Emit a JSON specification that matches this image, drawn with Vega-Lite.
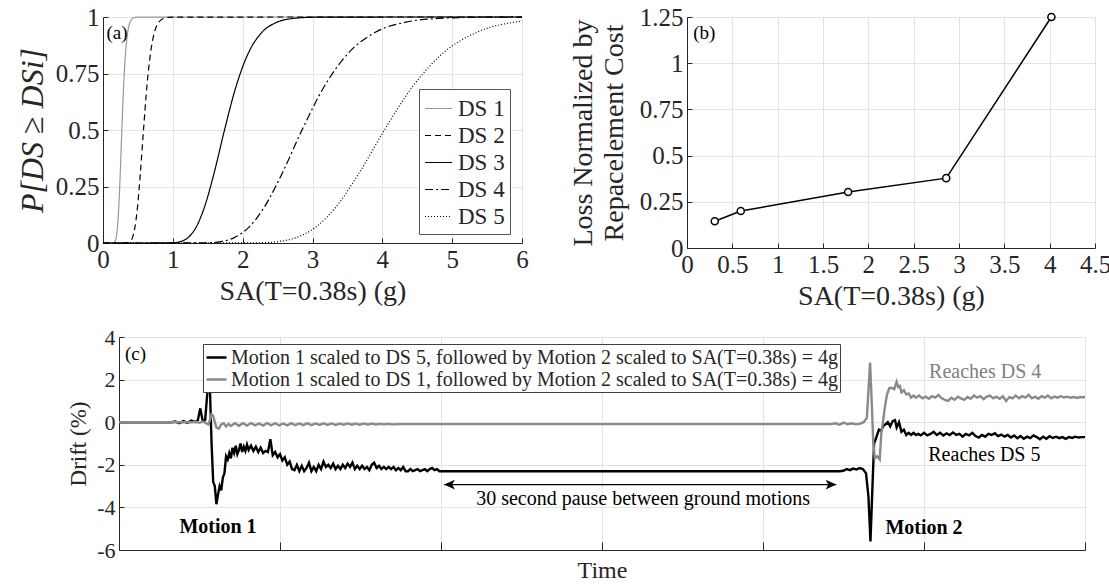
{
  "$schema": "https://vega.github.io/schema/vega-lite/v6.json",
  "padding": {"left": 16, "top": 5, "right": 0, "bottom": 2},
  "spacing": 16,
  "resolve": {"scale": {"color": "independent", "strokeDash": "independent"}, "legend": {"color": "independent", "strokeDash": "independent"}},
  "config": {
    "font": "Liberation Serif",
    "view": {"stroke": null},
    "axis": {
      "labelFont": "Liberation Serif", "titleFont": "Liberation Serif",
      "labelColor": "#262626", "titleColor": "#262626",
      "domainColor": "#262626", "tickColor": "#262626",
      "gridColor": "#e3e3e3", "gridWidth": 1,
      "titleFontWeight": "normal",
      "tickSize": -5, "labelPadding": 9,
      "labelFlush": false, "labelOverlap": false,
      "labelExpr": "'' + datum.value"
    },
    "legend": {"labelFont": "Liberation Serif", "labelColor": "#262626"},
    "text": {"font": "Liberation Serif"}
  },
  "datasets": {
    "frag": [
      {"ds": "DS 1", "sa": 0, "p": 0}, {"ds": "DS 1", "sa": 0.144, "p": 0.0002}, {"ds": "DS 1", "sa": 0.157, "p": 0.0013}, {"ds": "DS 1", "sa": 0.172, "p": 0.0062}, {"ds": "DS 1", "sa": 0.188, "p": 0.0228}, {"ds": "DS 1", "sa": 0.206, "p": 0.0668}, {"ds": "DS 1", "sa": 0.226, "p": 0.1587}, {"ds": "DS 1", "sa": 0.247, "p": 0.3085}, {"ds": "DS 1", "sa": 0.27, "p": 0.5}, {"ds": "DS 1", "sa": 0.295, "p": 0.6915}, {"ds": "DS 1", "sa": 0.323, "p": 0.8413}, {"ds": "DS 1", "sa": 0.354, "p": 0.9332}, {"ds": "DS 1", "sa": 0.387, "p": 0.9772}, {"ds": "DS 1", "sa": 0.423, "p": 0.9938}, {"ds": "DS 1", "sa": 0.463, "p": 0.9987}, {"ds": "DS 1", "sa": 0.507, "p": 0.9998}, {"ds": "DS 1", "sa": 6, "p": 1},
      {"ds": "DS 2", "sa": 0, "p": 0}, {"ds": "DS 2", "sa": 0.331, "p": 0.0002}, {"ds": "DS 2", "sa": 0.359, "p": 0.0013}, {"ds": "DS 2", "sa": 0.389, "p": 0.0062}, {"ds": "DS 2", "sa": 0.421, "p": 0.0228}, {"ds": "DS 2", "sa": 0.456, "p": 0.0668}, {"ds": "DS 2", "sa": 0.494, "p": 0.1587}, {"ds": "DS 2", "sa": 0.535, "p": 0.3085}, {"ds": "DS 2", "sa": 0.58, "p": 0.5}, {"ds": "DS 2", "sa": 0.628, "p": 0.6915}, {"ds": "DS 2", "sa": 0.681, "p": 0.8413}, {"ds": "DS 2", "sa": 0.737, "p": 0.9332}, {"ds": "DS 2", "sa": 0.799, "p": 0.9772}, {"ds": "DS 2", "sa": 0.865, "p": 0.9938}, {"ds": "DS 2", "sa": 0.937, "p": 0.9987}, {"ds": "DS 2", "sa": 1.016, "p": 0.9998}, {"ds": "DS 2", "sa": 6, "p": 1},
      {"ds": "DS 3", "sa": 0, "p": 0}, {"ds": "DS 3", "sa": 0.927, "p": 0.0002}, {"ds": "DS 3", "sa": 1.014, "p": 0.0013}, {"ds": "DS 3", "sa": 1.11, "p": 0.0062}, {"ds": "DS 3", "sa": 1.214, "p": 0.0228}, {"ds": "DS 3", "sa": 1.328, "p": 0.0668}, {"ds": "DS 3", "sa": 1.453, "p": 0.1587}, {"ds": "DS 3", "sa": 1.59, "p": 0.3085}, {"ds": "DS 3", "sa": 1.74, "p": 0.5}, {"ds": "DS 3", "sa": 1.904, "p": 0.6915}, {"ds": "DS 3", "sa": 2.083, "p": 0.8413}, {"ds": "DS 3", "sa": 2.279, "p": 0.9332}, {"ds": "DS 3", "sa": 2.493, "p": 0.9772}, {"ds": "DS 3", "sa": 2.728, "p": 0.9938}, {"ds": "DS 3", "sa": 2.986, "p": 0.9987}, {"ds": "DS 3", "sa": 3.268, "p": 0.9998}, {"ds": "DS 3", "sa": 6, "p": 1},
      {"ds": "DS 4", "sa": 0, "p": 0}, {"ds": "DS 4", "sa": 1.367, "p": 0.0002}, {"ds": "DS 4", "sa": 1.518, "p": 0.0013}, {"ds": "DS 4", "sa": 1.686, "p": 0.0062}, {"ds": "DS 4", "sa": 1.873, "p": 0.0228}, {"ds": "DS 4", "sa": 2.08, "p": 0.0668}, {"ds": "DS 4", "sa": 2.31, "p": 0.1587}, {"ds": "DS 4", "sa": 2.566, "p": 0.3085}, {"ds": "DS 4", "sa": 2.85, "p": 0.5}, {"ds": "DS 4", "sa": 3.166, "p": 0.6915}, {"ds": "DS 4", "sa": 3.516, "p": 0.8413}, {"ds": "DS 4", "sa": 3.905, "p": 0.9332}, {"ds": "DS 4", "sa": 4.338, "p": 0.9772}, {"ds": "DS 4", "sa": 4.818, "p": 0.9938}, {"ds": "DS 4", "sa": 5.351, "p": 0.9987}, {"ds": "DS 4", "sa": 5.944, "p": 0.9998}, {"ds": "DS 4", "sa": 6, "p": 0.9998},
      {"ds": "DS 5", "sa": 0, "p": 0}, {"ds": "DS 5", "sa": 2.073, "p": 0.0002}, {"ds": "DS 5", "sa": 2.279, "p": 0.0013}, {"ds": "DS 5", "sa": 2.506, "p": 0.0062}, {"ds": "DS 5", "sa": 2.756, "p": 0.0228}, {"ds": "DS 5", "sa": 3.031, "p": 0.0668}, {"ds": "DS 5", "sa": 3.333, "p": 0.1587}, {"ds": "DS 5", "sa": 3.665, "p": 0.3085}, {"ds": "DS 5", "sa": 4.03, "p": 0.5}, {"ds": "DS 5", "sa": 4.432, "p": 0.6915}, {"ds": "DS 5", "sa": 4.873, "p": 0.8413}, {"ds": "DS 5", "sa": 5.359, "p": 0.9332}, {"ds": "DS 5", "sa": 5.893, "p": 0.9772}, {"ds": "DS 5", "sa": 6, "p": 0.9818}
    ],
    "loss": [
      {"sa": 0.306, "loss": 0.145}, {"sa": 0.593, "loss": 0.2}, {"sa": 1.777, "loss": 0.303}, {"sa": 2.859, "loss": 0.378}, {"sa": 4.019, "loss": 1.25}
    ],
    "drift": [
      {"s": "A", "t": 0, "d": 0}, {"s": "A", "t": 6.5, "d": 0}, {"s": "A", "t": 7.0, "d": 0.03}, {"s": "A", "t": 7.5, "d": -0.05}, {"s": "A", "t": 8.0, "d": 0.05}, {"s": "A", "t": 8.5, "d": -0.03}, {"s": "A", "t": 9.0, "d": 0.08}, {"s": "A", "t": 9.5, "d": 0.0}, {"s": "A", "t": 9.8, "d": 0.1}, {"s": "A", "t": 10.1, "d": 0.65}, {"s": "A", "t": 10.4, "d": 0.05}, {"s": "A", "t": 10.7, "d": 0.1}, {"s": "A", "t": 11.0, "d": 1.5}, {"s": "A", "t": 11.15, "d": 2.85}, {"s": "A", "t": 11.3, "d": 1.5}, {"s": "A", "t": 11.5, "d": -1.0}, {"s": "A", "t": 11.7, "d": -2.8}, {"s": "A", "t": 11.9, "d": -3.0}, {"s": "A", "t": 12.1, "d": -3.85}, {"s": "A", "t": 12.3, "d": -3.4}, {"s": "A", "t": 12.5, "d": -3.0}, {"s": "A", "t": 12.7, "d": -3.2}, {"s": "A", "t": 12.9, "d": -2.6}, {"s": "A", "t": 13.1, "d": -2.4}, {"s": "A", "t": 13.3, "d": -1.6}, {"s": "A", "t": 13.5, "d": -1.75}, {"s": "A", "t": 13.7, "d": -1.45}, {"s": "A", "t": 13.9, "d": -1.7}, {"s": "A", "t": 14.1, "d": -1.2}, {"s": "A", "t": 14.3, "d": -1.45}, {"s": "A", "t": 14.5, "d": -1.1}, {"s": "A", "t": 14.7, "d": -1.5}, {"s": "A", "t": 14.9, "d": -1.3}, {"s": "A", "t": 15.1, "d": -1.0}, {"s": "A", "t": 15.3, "d": -1.4}, {"s": "A", "t": 15.5, "d": -1.15}, {"s": "A", "t": 15.7, "d": -1.35}, {"s": "A", "t": 15.9, "d": -1.05}, {"s": "A", "t": 16.1, "d": -1.3}, {"s": "A", "t": 16.4, "d": -1.1}, {"s": "A", "t": 16.7, "d": -1.35}, {"s": "A", "t": 17.0, "d": -1.15}, {"s": "A", "t": 17.3, "d": -1.4}, {"s": "A", "t": 17.6, "d": -1.2}, {"s": "A", "t": 17.9, "d": -1.45}, {"s": "A", "t": 18.2, "d": -1.35}, {"s": "A", "t": 18.5, "d": -1.4}, {"s": "A", "t": 18.8, "d": -0.8}, {"s": "A", "t": 19.1, "d": -1.55}, {"s": "A", "t": 19.4, "d": -1.4}, {"s": "A", "t": 19.7, "d": -1.65}, {"s": "A", "t": 20.0, "d": -1.5}, {"s": "A", "t": 20.3, "d": -1.8}, {"s": "A", "t": 20.6, "d": -1.65}, {"s": "A", "t": 20.9, "d": -2.0}, {"s": "A", "t": 21.2, "d": -1.85}, {"s": "A", "t": 21.5, "d": -2.2}, {"s": "A", "t": 21.8, "d": -2.25}, {"s": "A", "t": 22.1, "d": -2.0}, {"s": "A", "t": 22.4, "d": -2.3}, {"s": "A", "t": 22.7, "d": -2.05}, {"s": "A", "t": 23.0, "d": -2.3}, {"s": "A", "t": 23.3, "d": -2.15}, {"s": "A", "t": 23.6, "d": -1.9}, {"s": "A", "t": 23.9, "d": -2.3}, {"s": "A", "t": 24.2, "d": -2.1}, {"s": "A", "t": 24.5, "d": -2.3}, {"s": "A", "t": 24.8, "d": -2.0}, {"s": "A", "t": 25.1, "d": -2.2}, {"s": "A", "t": 25.4, "d": -1.85}, {"s": "A", "t": 25.7, "d": -2.1}, {"s": "A", "t": 26.0, "d": -2.0}, {"s": "A", "t": 26.3, "d": -2.15}, {"s": "A", "t": 26.6, "d": -1.95}, {"s": "A", "t": 26.9, "d": -2.2}, {"s": "A", "t": 27.2, "d": -2.05}, {"s": "A", "t": 27.5, "d": -2.2}, {"s": "A", "t": 27.8, "d": -2.0}, {"s": "A", "t": 28.1, "d": -2.15}, {"s": "A", "t": 28.4, "d": -1.95}, {"s": "A", "t": 28.7, "d": -2.1}, {"s": "A", "t": 29.0, "d": -1.9}, {"s": "A", "t": 29.3, "d": -2.2}, {"s": "A", "t": 29.6, "d": -2.05}, {"s": "A", "t": 29.9, "d": -2.2}, {"s": "A", "t": 30.2, "d": -2.05}, {"s": "A", "t": 30.5, "d": -2.2}, {"s": "A", "t": 30.8, "d": -2.1}, {"s": "A", "t": 31.1, "d": -2.25}, {"s": "A", "t": 31.4, "d": -2.0}, {"s": "A", "t": 31.7, "d": -1.9}, {"s": "A", "t": 32.0, "d": -2.15}, {"s": "A", "t": 32.3, "d": -2.05}, {"s": "A", "t": 32.6, "d": -2.2}, {"s": "A", "t": 32.9, "d": -2.1}, {"s": "A", "t": 33.2, "d": -2.2}, {"s": "A", "t": 33.5, "d": -2.1}, {"s": "A", "t": 33.8, "d": -2.2}, {"s": "A", "t": 34.1, "d": -2.1}, {"s": "A", "t": 34.4, "d": -2.25}, {"s": "A", "t": 34.7, "d": -2.15}, {"s": "A", "t": 35.0, "d": -2.25}, {"s": "A", "t": 35.3, "d": -2.1}, {"s": "A", "t": 35.6, "d": -2.3}, {"s": "A", "t": 35.9, "d": -2.3}, {"s": "A", "t": 36.2, "d": -2.2}, {"s": "A", "t": 36.5, "d": -2.3}, {"s": "A", "t": 36.8, "d": -2.25}, {"s": "A", "t": 37.1, "d": -2.2}, {"s": "A", "t": 37.4, "d": -2.3}, {"s": "A", "t": 37.7, "d": -2.25}, {"s": "A", "t": 38.0, "d": -2.2}, {"s": "A", "t": 38.3, "d": -2.3}, {"s": "A", "t": 38.6, "d": -2.2}, {"s": "A", "t": 38.9, "d": -2.15}, {"s": "A", "t": 39.2, "d": -2.25}, {"s": "A", "t": 39.5, "d": -2.2}, {"s": "A", "t": 39.8, "d": -2.3}, {"s": "A", "t": 40.0, "d": -2.3}, {"s": "A", "t": 89.5, "d": -2.3}, {"s": "A", "t": 90.0, "d": -2.28}, {"s": "A", "t": 90.4, "d": -2.2}, {"s": "A", "t": 90.8, "d": -2.25}, {"s": "A", "t": 91.2, "d": -2.18}, {"s": "A", "t": 91.6, "d": -2.22}, {"s": "A", "t": 92.0, "d": -2.15}, {"s": "A", "t": 92.4, "d": -2.2}, {"s": "A", "t": 92.8, "d": -2.4}, {"s": "A", "t": 93.1, "d": -3.5}, {"s": "A", "t": 93.35, "d": -5.6}, {"s": "A", "t": 93.6, "d": -3.0}, {"s": "A", "t": 93.8, "d": -1.0}, {"s": "A", "t": 94.0, "d": -0.8}, {"s": "A", "t": 94.4, "d": -0.35}, {"s": "A", "t": 94.7, "d": -0.4}, {"s": "A", "t": 94.9, "d": -0.2}, {"s": "A", "t": 95.2, "d": -0.1}, {"s": "A", "t": 95.5, "d": 0.0}, {"s": "A", "t": 95.8, "d": -0.2}, {"s": "A", "t": 96.1, "d": 0.05}, {"s": "A", "t": 96.4, "d": 0.1}, {"s": "A", "t": 96.6, "d": -0.25}, {"s": "A", "t": 96.9, "d": 0.0}, {"s": "A", "t": 97.2, "d": -0.45}, {"s": "A", "t": 97.5, "d": -0.35}, {"s": "A", "t": 97.8, "d": -0.6}, {"s": "A", "t": 98.1, "d": -0.5}, {"s": "A", "t": 98.4, "d": -0.6}, {"s": "A", "t": 98.7, "d": -0.5}, {"s": "A", "t": 99.0, "d": -0.6}, {"s": "A", "t": 99.3, "d": -0.55}, {"s": "A", "t": 99.6, "d": -0.62}, {"s": "A", "t": 100.0, "d": -0.5}, {"s": "A", "t": 100.4, "d": -0.62}, {"s": "A", "t": 100.8, "d": -0.55}, {"s": "A", "t": 101.2, "d": -0.45}, {"s": "A", "t": 101.6, "d": -0.6}, {"s": "A", "t": 102.0, "d": -0.5}, {"s": "A", "t": 102.4, "d": -0.62}, {"s": "A", "t": 102.8, "d": -0.52}, {"s": "A", "t": 103.2, "d": -0.6}, {"s": "A", "t": 103.6, "d": -0.48}, {"s": "A", "t": 104.0, "d": -0.6}, {"s": "A", "t": 104.4, "d": -0.55}, {"s": "A", "t": 104.8, "d": -0.68}, {"s": "A", "t": 105.2, "d": -0.55}, {"s": "A", "t": 105.6, "d": -0.62}, {"s": "A", "t": 106.0, "d": -0.5}, {"s": "A", "t": 106.4, "d": -0.65}, {"s": "A", "t": 106.8, "d": -0.72}, {"s": "A", "t": 107.2, "d": -0.6}, {"s": "A", "t": 107.6, "d": -0.68}, {"s": "A", "t": 108.0, "d": -0.55}, {"s": "A", "t": 108.4, "d": -0.6}, {"s": "A", "t": 108.8, "d": -0.52}, {"s": "A", "t": 109.2, "d": -0.65}, {"s": "A", "t": 109.6, "d": -0.58}, {"s": "A", "t": 110.0, "d": -0.68}, {"s": "A", "t": 110.4, "d": -0.6}, {"s": "A", "t": 110.8, "d": -0.72}, {"s": "A", "t": 111.2, "d": -0.62}, {"s": "A", "t": 111.6, "d": -0.75}, {"s": "A", "t": 112.0, "d": -0.65}, {"s": "A", "t": 112.4, "d": -0.78}, {"s": "A", "t": 112.8, "d": -0.68}, {"s": "A", "t": 113.2, "d": -0.75}, {"s": "A", "t": 113.6, "d": -0.62}, {"s": "A", "t": 114.0, "d": -0.7}, {"s": "A", "t": 114.4, "d": -0.8}, {"s": "A", "t": 114.8, "d": -0.68}, {"s": "A", "t": 115.2, "d": -0.78}, {"s": "A", "t": 115.6, "d": -0.66}, {"s": "A", "t": 116.0, "d": -0.74}, {"s": "A", "t": 116.4, "d": -0.68}, {"s": "A", "t": 116.8, "d": -0.75}, {"s": "A", "t": 117.2, "d": -0.7}, {"s": "A", "t": 117.6, "d": -0.78}, {"s": "A", "t": 118.0, "d": -0.7}, {"s": "A", "t": 118.4, "d": -0.74}, {"s": "A", "t": 118.8, "d": -0.68}, {"s": "A", "t": 119.2, "d": -0.72}, {"s": "A", "t": 119.6, "d": -0.7}, {"s": "A", "t": 120.0, "d": -0.7},
      {"s": "B", "t": 0, "d": 0}, {"s": "B", "t": 9.0, "d": 0}, {"s": "B", "t": 9.5, "d": 0.02}, {"s": "B", "t": 10.0, "d": -0.03}, {"s": "B", "t": 10.4, "d": 0.03}, {"s": "B", "t": 10.8, "d": -0.05}, {"s": "B", "t": 11.1, "d": -0.1}, {"s": "B", "t": 11.3, "d": 0.1}, {"s": "B", "t": 11.5, "d": 0.38}, {"s": "B", "t": 11.7, "d": 0.3}, {"s": "B", "t": 11.9, "d": 0.0}, {"s": "B", "t": 12.1, "d": -0.25}, {"s": "B", "t": 12.4, "d": -0.3}, {"s": "B", "t": 12.7, "d": -0.1}, {"s": "B", "t": 13.0, "d": -0.05}, {"s": "B", "t": 13.3, "d": -0.2}, {"s": "B", "t": 13.6, "d": -0.08}, {"s": "B", "t": 13.9, "d": -0.18}, {"s": "B", "t": 14.4, "d": -0.05}, {"s": "B", "t": 14.9, "d": -0.17}, {"s": "B", "t": 15.4, "d": -0.05}, {"s": "B", "t": 15.9, "d": -0.16}, {"s": "B", "t": 16.4, "d": -0.04}, {"s": "B", "t": 16.9, "d": -0.15}, {"s": "B", "t": 17.4, "d": -0.06}, {"s": "B", "t": 17.9, "d": -0.16}, {"s": "B", "t": 18.4, "d": -0.04}, {"s": "B", "t": 18.9, "d": -0.15}, {"s": "B", "t": 19.4, "d": -0.05}, {"s": "B", "t": 19.9, "d": -0.15}, {"s": "B", "t": 20.4, "d": -0.06}, {"s": "B", "t": 20.9, "d": -0.15}, {"s": "B", "t": 21.4, "d": -0.05}, {"s": "B", "t": 21.9, "d": -0.14}, {"s": "B", "t": 22.4, "d": -0.06}, {"s": "B", "t": 22.9, "d": -0.14}, {"s": "B", "t": 23.4, "d": -0.05}, {"s": "B", "t": 23.9, "d": -0.14}, {"s": "B", "t": 24.4, "d": -0.06}, {"s": "B", "t": 24.9, "d": -0.13}, {"s": "B", "t": 25.4, "d": -0.06}, {"s": "B", "t": 25.9, "d": -0.13}, {"s": "B", "t": 26.4, "d": -0.06}, {"s": "B", "t": 26.9, "d": -0.13}, {"s": "B", "t": 27.4, "d": -0.07}, {"s": "B", "t": 27.9, "d": -0.12}, {"s": "B", "t": 28.4, "d": -0.06}, {"s": "B", "t": 28.9, "d": -0.12}, {"s": "B", "t": 29.4, "d": -0.07}, {"s": "B", "t": 29.9, "d": -0.12}, {"s": "B", "t": 30.4, "d": -0.07}, {"s": "B", "t": 30.9, "d": -0.11}, {"s": "B", "t": 31.4, "d": -0.07}, {"s": "B", "t": 31.9, "d": -0.11}, {"s": "B", "t": 32.4, "d": -0.08}, {"s": "B", "t": 32.9, "d": -0.1}, {"s": "B", "t": 33.4, "d": -0.08}, {"s": "B", "t": 33.9, "d": -0.1}, {"s": "B", "t": 35.0, "d": -0.09}, {"s": "B", "t": 88.5, "d": -0.09}, {"s": "B", "t": 89.0, "d": -0.05}, {"s": "B", "t": 89.5, "d": -0.12}, {"s": "B", "t": 90.0, "d": -0.02}, {"s": "B", "t": 90.5, "d": -0.1}, {"s": "B", "t": 91.0, "d": -0.05}, {"s": "B", "t": 91.5, "d": -0.1}, {"s": "B", "t": 92.0, "d": -0.08}, {"s": "B", "t": 92.5, "d": 0.0}, {"s": "B", "t": 92.9, "d": 0.2}, {"s": "B", "t": 93.1, "d": 1.5}, {"s": "B", "t": 93.3, "d": 2.8}, {"s": "B", "t": 93.5, "d": 1.0}, {"s": "B", "t": 93.7, "d": -1.0}, {"s": "B", "t": 93.9, "d": -1.7}, {"s": "B", "t": 94.2, "d": -1.6}, {"s": "B", "t": 94.5, "d": -1.75}, {"s": "B", "t": 94.7, "d": -0.5}, {"s": "B", "t": 94.9, "d": 0.0}, {"s": "B", "t": 95.1, "d": 0.6}, {"s": "B", "t": 95.4, "d": 1.3}, {"s": "B", "t": 95.7, "d": 1.6}, {"s": "B", "t": 96.0, "d": 1.62}, {"s": "B", "t": 96.3, "d": 1.55}, {"s": "B", "t": 96.6, "d": 1.9}, {"s": "B", "t": 96.8, "d": 1.65}, {"s": "B", "t": 97.0, "d": 1.7}, {"s": "B", "t": 97.2, "d": 1.4}, {"s": "B", "t": 97.5, "d": 1.5}, {"s": "B", "t": 97.8, "d": 1.3}, {"s": "B", "t": 98.1, "d": 1.35}, {"s": "B", "t": 98.4, "d": 1.15}, {"s": "B", "t": 98.7, "d": 1.25}, {"s": "B", "t": 99.0, "d": 1.15}, {"s": "B", "t": 99.4, "d": 1.25}, {"s": "B", "t": 99.8, "d": 1.12}, {"s": "B", "t": 100.2, "d": 1.2}, {"s": "B", "t": 100.6, "d": 1.1}, {"s": "B", "t": 101.0, "d": 1.22}, {"s": "B", "t": 101.4, "d": 1.15}, {"s": "B", "t": 101.8, "d": 1.28}, {"s": "B", "t": 102.2, "d": 1.12}, {"s": "B", "t": 102.6, "d": 1.05}, {"s": "B", "t": 103.0, "d": 1.0}, {"s": "B", "t": 103.4, "d": 1.15}, {"s": "B", "t": 103.8, "d": 1.05}, {"s": "B", "t": 104.2, "d": 1.2}, {"s": "B", "t": 104.6, "d": 1.12}, {"s": "B", "t": 105.0, "d": 1.05}, {"s": "B", "t": 105.4, "d": 1.18}, {"s": "B", "t": 105.8, "d": 1.1}, {"s": "B", "t": 106.2, "d": 1.25}, {"s": "B", "t": 106.6, "d": 1.15}, {"s": "B", "t": 107.0, "d": 1.22}, {"s": "B", "t": 107.4, "d": 1.08}, {"s": "B", "t": 107.8, "d": 1.2}, {"s": "B", "t": 108.2, "d": 1.25}, {"s": "B", "t": 108.6, "d": 1.12}, {"s": "B", "t": 109.0, "d": 1.2}, {"s": "B", "t": 109.4, "d": 1.1}, {"s": "B", "t": 109.8, "d": 1.22}, {"s": "B", "t": 110.2, "d": 1.0}, {"s": "B", "t": 110.6, "d": 1.18}, {"s": "B", "t": 111.0, "d": 1.12}, {"s": "B", "t": 111.4, "d": 1.25}, {"s": "B", "t": 111.8, "d": 1.12}, {"s": "B", "t": 112.2, "d": 1.22}, {"s": "B", "t": 112.6, "d": 1.15}, {"s": "B", "t": 113.0, "d": 1.28}, {"s": "B", "t": 113.4, "d": 1.12}, {"s": "B", "t": 113.8, "d": 1.2}, {"s": "B", "t": 114.2, "d": 1.1}, {"s": "B", "t": 114.6, "d": 1.22}, {"s": "B", "t": 115.0, "d": 1.15}, {"s": "B", "t": 115.4, "d": 1.25}, {"s": "B", "t": 115.8, "d": 1.12}, {"s": "B", "t": 116.2, "d": 1.2}, {"s": "B", "t": 116.6, "d": 1.15}, {"s": "B", "t": 117.0, "d": 1.22}, {"s": "B", "t": 117.4, "d": 1.16}, {"s": "B", "t": 117.8, "d": 1.2}, {"s": "B", "t": 118.2, "d": 1.15}, {"s": "B", "t": 118.6, "d": 1.18}, {"s": "B", "t": 119.0, "d": 1.14}, {"s": "B", "t": 119.4, "d": 1.18}, {"s": "B", "t": 120.0, "d": 1.17}
    ]
  },
  "vconcat": [
    {
      "hconcat": [
        {
          "width": 419, "height": 226,
          "layer": [
            {
              "data": {"name": "frag"},
              "mark": {"type": "line", "strokeWidth": 1.2, "interpolate": "monotone"},
              "encoding": {
                "x": {"field": "sa", "type": "quantitative", "scale": {"domain": [0, 6], "nice": false},
                      "axis": {"title": "SA(T=0.38s) (g)", "values": [0, 1, 2, 3, 4, 5, 6], "labelFontSize": 25, "titleFontSize": 28, "titlePadding": 5}},
                "y": {"field": "p", "type": "quantitative", "scale": {"domain": [0, 1], "nice": false},
                      "axis": {"title": "P[DS ≥ DSi]", "titleFontStyle": "italic", "titleFontSize": 32, "values": [0, 0.25, 0.5, 0.75, 1], "labelFontSize": 25, "titlePadding": 6}},
                "color": {"field": "ds", "type": "nominal",
                          "scale": {"domain": ["DS 1", "DS 2", "DS 3", "DS 4", "DS 5"], "range": ["#999999", "#000000", "#000000", "#000000", "#000000"]},
                          "legend": {"title": null, "orient": "none", "legendX": 316, "legendY": 72, "labelFontSize": 23, "symbolSize": 729, "symbolStrokeWidth": 1.2, "strokeColor": "#555555", "fillColor": "white", "padding": 5, "rowPadding": 0, "labelOffset": 5}},
                "strokeDash": {"field": "ds", "type": "nominal",
                          "scale": {"domain": ["DS 1", "DS 2", "DS 3", "DS 4", "DS 5"], "range": [[1, 0], [6, 4], [1, 0], [8, 3, 2, 3], [1, 2]]},
                          "legend": {"title": null, "orient": "none", "legendX": 316, "legendY": 72, "labelFontSize": 23, "symbolSize": 729, "symbolStrokeWidth": 1.2, "strokeColor": "#555555", "fillColor": "white", "padding": 5, "rowPadding": 0, "labelOffset": 5}}
              }
            },
            {
              "data": {"values": [{}]},
              "mark": {"type": "text", "text": "(a)", "fontSize": 19, "align": "center", "baseline": "middle", "color": "#000000"},
              "encoding": {"x": {"datum": 0.2}, "y": {"datum": 0.93}}
            }
          ]
        },
        {
          "width": 408, "height": 231,
          "layer": [
            {
              "data": {"name": "loss"},
              "mark": {"type": "line", "color": "#000000", "strokeWidth": 1.5,
                       "point": {"filled": false, "fill": "white", "stroke": "#000000", "size": 50, "strokeWidth": 1.5}},
              "encoding": {
                "x": {"field": "sa", "type": "quantitative", "scale": {"domain": [0, 4.5], "nice": false},
                      "axis": {"title": "SA(T=0.38s) (g)", "values": [0, 0.5, 1, 1.5, 2, 2.5, 3, 3.5, 4, 4.5], "labelFontSize": 25, "titleFontSize": 28, "titlePadding": 5}},
                "y": {"field": "loss", "type": "quantitative", "scale": {"domain": [0, 1.25], "nice": false},
                      "axis": {"title": ["Loss Normalized by", "Repacelement Cost"], "titleLineHeight": 31, "values": [0, 0.25, 0.5, 0.75, 1, 1.25], "labelFontSize": 25, "titleFontSize": 28, "titlePadding": 11}}
              }
            },
            {
              "data": {"values": [{}]},
              "mark": {"type": "text", "text": "(b)", "fontSize": 19, "align": "center", "baseline": "middle", "color": "#000000"},
              "encoding": {"x": {"datum": 0.19}, "y": {"datum": 1.163}}
            }
          ]
        }
      ],
      "spacing": 165,
      "bounds": "flush"
    },
    {
      "hconcat": [
        {
          "width": 1, "height": 213,
          "data": {"values": [{}]},
          "mark": {"type": "text", "text": ""}
        },
        {
          "width": 966, "height": 213,
          "layer": [
            {
              "data": {"name": "drift"},
              "mark": {"type": "line", "strokeWidth": 2.4},
              "encoding": {
                "x": {"field": "t", "type": "quantitative", "scale": {"domain": [0, 120], "nice": false},
                      "axis": {"title": "Time", "values": [0, 20, 40, 60, 80, 100, 120], "labels": false, "titleFontSize": 24, "titlePadding": 8, "tickSize": -8}},
                "y": {"field": "d", "type": "quantitative", "scale": {"domain": [-6, 4], "nice": false},
                      "axis": {"title": "Drift (%)", "values": [-6, -4, -2, 0, 2, 4], "labelFontSize": 22, "titleFontSize": 23, "titlePadding": 6}},
                "color": {"field": "s", "type": "nominal",
                          "scale": {"domain": ["A", "B"], "range": ["#000000", "#8a8a8a"]},
                          "legend": {"title": null, "orient": "none", "legendX": 100, "legendY": 7, "labelFontSize": 20, "labelLimit": 900, "symbolSize": 400, "symbolStrokeWidth": 2.5, "symbolType": "stroke", "strokeColor": "#404040", "fillColor": "white", "padding": 2, "rowPadding": 0, "labelOffset": 3,
                                     "labelExpr": "datum.value == 'A' ? 'Motion 1 scaled to DS 5, followed by Motion 2 scaled to SA(T=0.38s) = 4g' : 'Motion 1 scaled to DS 1, followed by Motion 2 scaled to SA(T=0.38s) = 4g'"}}
              }
            },
            {
              "data": {"values": [{}]},
              "mark": {"type": "rule", "color": "#000000", "strokeWidth": 1.3},
              "encoding": {"x": {"datum": 40.4}, "x2": {"datum": 89.1}, "y": {"datum": -2.93}}
            },
            {
              "data": {"values": [{}]},
              "mark": {"type": "point", "shape": "M0,0L1,-0.45L0.75,0L1,0.45Z", "filled": true, "color": "#000000", "size": 450, "opacity": 1},
              "encoding": {"x": {"datum": 40.4}, "y": {"datum": -2.93}}
            },
            {
              "data": {"values": [{}]},
              "mark": {"type": "point", "shape": "M0,0L-1,-0.45L-0.75,0L-1,0.45Z", "filled": true, "color": "#000000", "size": 450, "opacity": 1},
              "encoding": {"x": {"datum": 89.1}, "y": {"datum": -2.93}}
            },
            {
              "data": {"values": [{}]},
              "mark": {"type": "text", "text": "(c)", "fontSize": 19, "align": "center", "baseline": "middle", "color": "#000000"},
              "encoding": {"x": {"datum": 2.05}, "y": {"datum": 3.2}}
            },
            {
              "data": {"values": [{}]},
              "mark": {"type": "text", "text": "Motion 1", "fontSize": 20, "fontWeight": "bold", "align": "center", "baseline": "middle", "color": "#000000"},
              "encoding": {"x": {"datum": 12.3}, "y": {"datum": -4.92}}
            },
            {
              "data": {"values": [{}]},
              "mark": {"type": "text", "text": "Motion 2", "fontSize": 20, "fontWeight": "bold", "align": "center", "baseline": "middle", "color": "#000000"},
              "encoding": {"x": {"datum": 100}, "y": {"datum": -4.95}}
            },
            {
              "data": {"values": [{}]},
              "mark": {"type": "text", "text": "Reaches DS 4", "fontSize": 20, "align": "center", "baseline": "middle", "color": "#808080"},
              "encoding": {"x": {"datum": 107.6}, "y": {"datum": 2.38}}
            },
            {
              "data": {"values": [{}]},
              "mark": {"type": "text", "text": "Reaches DS 5", "fontSize": 20, "align": "center", "baseline": "middle", "color": "#000000"},
              "encoding": {"x": {"datum": 107.5}, "y": {"datum": -1.52}}
            },
            {
              "data": {"values": [{}]},
              "mark": {"type": "text", "text": "30 second pause between ground motions", "fontSize": 20, "align": "center", "baseline": "middle", "color": "#000000"},
              "encoding": {"x": {"datum": 65.1}, "y": {"datum": -3.6}}
            }
          ]
        }
      ],
      "spacing": 15,
      "bounds": "flush"
    }
  ]
}
